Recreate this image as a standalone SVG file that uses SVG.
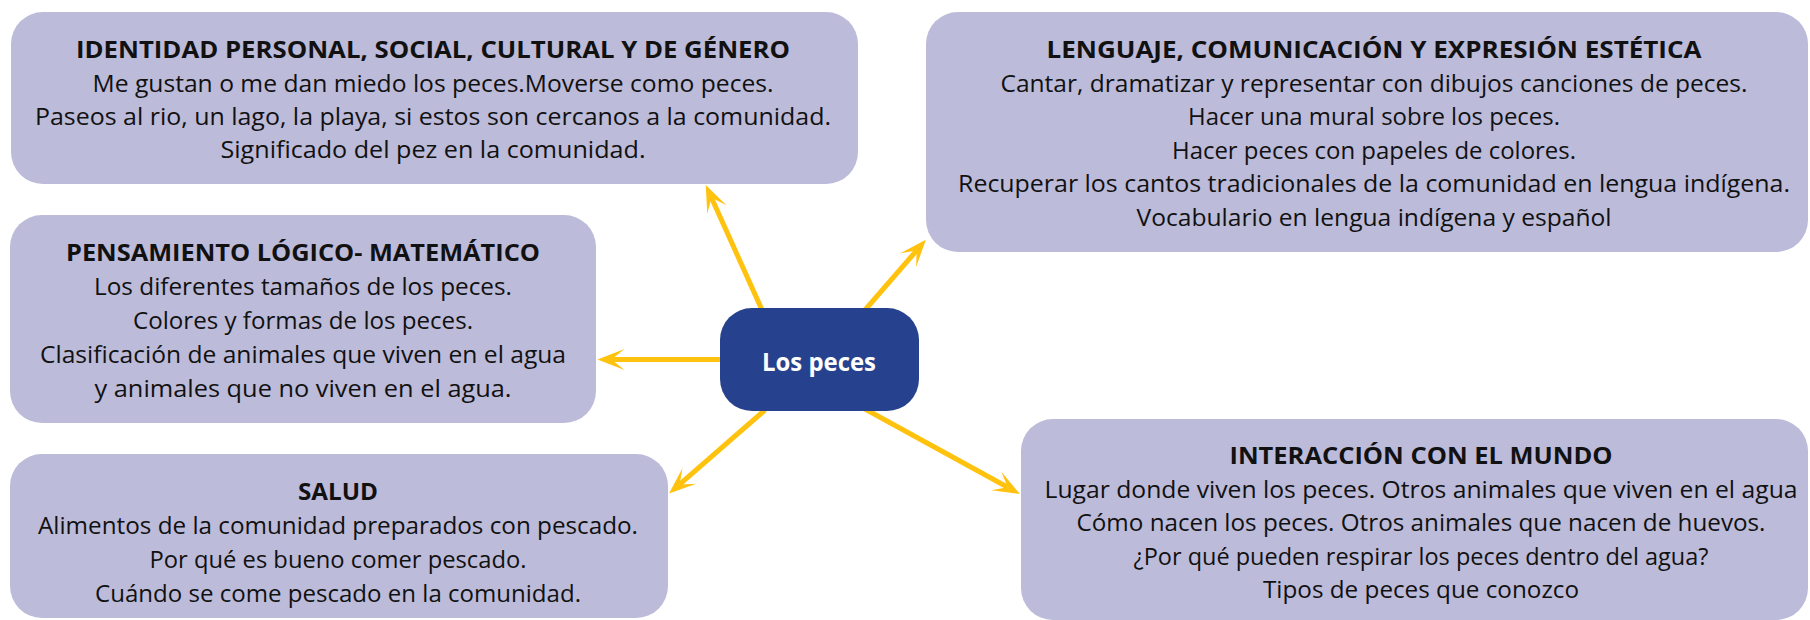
<svg xmlns="http://www.w3.org/2000/svg" width="1810" height="620" viewBox="0 0 1810 620">
  <style>
    .box { fill: #BCBBD9; }
    .center { fill: #26418D; }
    text { font-family: "Open Sans", "Noto Sans", "DejaVu Sans", sans-serif; fill: #111111; text-anchor: middle; }
    .t { font-size: 24px; font-weight: 700; }
    .b { font-size: 23px; font-weight: 400; }
    .c { font-size: 25px; font-weight: 700; fill: #FFFFFF; }
    .conn { stroke: #FFC20E; stroke-width: 5; fill: none; marker-end: url(#arrow); }
  </style>
  <defs>
    <marker id="arrow" markerUnits="userSpaceOnUse" viewBox="-16 -13 34 26" markerWidth="34" markerHeight="26" refX="0" refY="0" orient="auto">
      <path d="M14,0 L-13,-10.5 L0,0 L-13,10.5 Z" fill="#FFC20E"/>
    </marker>
  </defs>

  <g id="node-identidad">
    <rect class="box" x="11" y="12" width="847" height="172" rx="32"/>
    <text class="t" x="433" y="58" textLength="714" lengthAdjust="spacingAndGlyphs">IDENTIDAD PERSONAL, SOCIAL, CULTURAL Y DE GÉNERO</text>
    <text class="b" x="433" y="92" textLength="681" lengthAdjust="spacingAndGlyphs">Me gustan o me dan miedo los peces.Moverse como peces.</text>
    <text class="b" x="433" y="125" textLength="796" lengthAdjust="spacingAndGlyphs">Paseos al rio, un lago, la playa, si estos son cercanos a la comunidad.</text>
    <text class="b" x="433" y="158" textLength="425" lengthAdjust="spacingAndGlyphs">Significado del pez en la comunidad.</text>
  </g>

  <g id="node-lenguaje">
    <rect class="box" x="926" y="12" width="882" height="240" rx="32"/>
    <text class="t" x="1374" y="58" textLength="655" lengthAdjust="spacingAndGlyphs">LENGUAJE, COMUNICACIÓN Y EXPRESIÓN ESTÉTICA</text>
    <text class="b" x="1374" y="91.5" textLength="747" lengthAdjust="spacingAndGlyphs">Cantar, dramatizar y representar con dibujos canciones de peces.</text>
    <text class="b" x="1374" y="125" textLength="372" lengthAdjust="spacingAndGlyphs">Hacer una mural sobre los peces.</text>
    <text class="b" x="1374" y="158.5" textLength="404" lengthAdjust="spacingAndGlyphs">Hacer peces con papeles de colores.</text>
    <text class="b" x="1374" y="192" textLength="832" lengthAdjust="spacingAndGlyphs">Recuperar los cantos tradicionales de la comunidad en lengua indígena.</text>
    <text class="b" x="1374" y="225.5" textLength="475" lengthAdjust="spacingAndGlyphs">Vocabulario en lengua indígena y español</text>
  </g>

  <g id="node-pensamiento">
    <rect class="box" x="10" y="215" width="586" height="208" rx="32"/>
    <text class="t" x="303" y="261" textLength="474" lengthAdjust="spacingAndGlyphs">PENSAMIENTO LÓGICO- MATEMÁTICO</text>
    <text class="b" x="303" y="295" textLength="418" lengthAdjust="spacingAndGlyphs">Los diferentes tamaños de los peces.</text>
    <text class="b" x="303" y="329" textLength="340" lengthAdjust="spacingAndGlyphs">Colores y formas de los peces.</text>
    <text class="b" x="303" y="363" textLength="526" lengthAdjust="spacingAndGlyphs">Clasificación de animales que viven en el agua</text>
    <text class="b" x="303" y="397" textLength="417" lengthAdjust="spacingAndGlyphs">y animales que no viven en el agua.</text>
  </g>

  <g id="node-salud">
    <rect class="box" x="10" y="454" width="658" height="164" rx="32"/>
    <text class="t" x="338" y="500" textLength="80" lengthAdjust="spacingAndGlyphs">SALUD</text>
    <text class="b" x="338" y="534" textLength="600" lengthAdjust="spacingAndGlyphs">Alimentos de la comunidad preparados con pescado.</text>
    <text class="b" x="338" y="568" textLength="377" lengthAdjust="spacingAndGlyphs">Por qué es bueno comer pescado.</text>
    <text class="b" x="338" y="601.5" textLength="486" lengthAdjust="spacingAndGlyphs">Cuándo se come pescado en la comunidad.</text>
  </g>

  <g id="node-interaccion">
    <rect class="box" x="1021" y="419" width="787" height="201" rx="32"/>
    <text class="t" x="1421" y="464" textLength="383" lengthAdjust="spacingAndGlyphs">INTERACCIÓN CON EL MUNDO</text>
    <text class="b" x="1421" y="498" textLength="753" lengthAdjust="spacingAndGlyphs">Lugar donde viven los peces. Otros animales que viven en el agua</text>
    <text class="b" x="1421" y="531" textLength="689" lengthAdjust="spacingAndGlyphs">Cómo nacen los peces. Otros animales que nacen de huevos.</text>
    <text class="b" x="1421" y="565" textLength="575" lengthAdjust="spacingAndGlyphs">¿Por qué pueden respirar los peces dentro del agua?</text>
    <text class="b" x="1421" y="598" textLength="316" lengthAdjust="spacingAndGlyphs">Tipos de peces que conozco</text>
  </g>

  <g id="connectors">
    <path class="conn" d="M762,310 L711.5,197.7"/>
    <path class="conn" d="M865,310 L916.7,250.4"/>
    <path class="conn" d="M722,359.5 L611.5,359.5"/>
    <path class="conn" d="M765,410 L679.6,484.4"/>
    <path class="conn" d="M865,409 L1007.7,487.3"/>
  </g>

  <g id="node-center">
    <rect class="center" x="720" y="308" width="199" height="103" rx="32"/>
    <text class="c" x="819" y="371" textLength="114" lengthAdjust="spacingAndGlyphs">Los peces</text>
  </g>
</svg>
